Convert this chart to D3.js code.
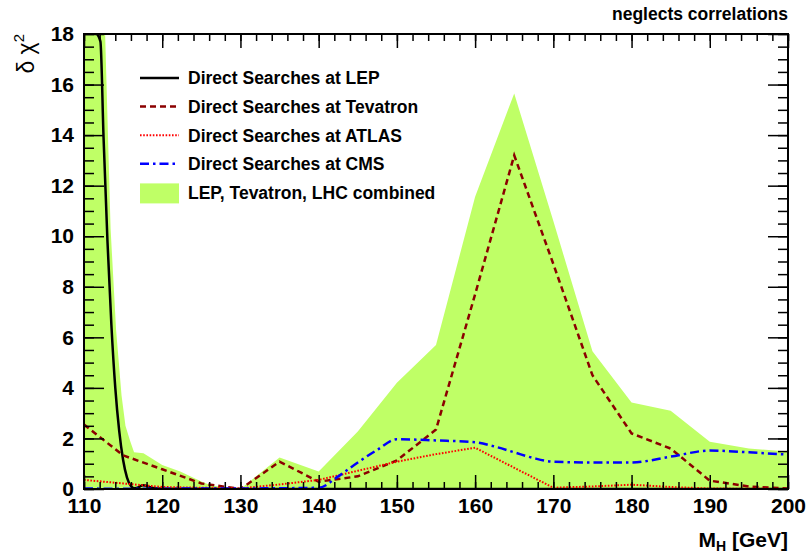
<!DOCTYPE html>
<html>
<head>
<meta charset="utf-8">
<script src="https://cdn.jsdelivr.net/npm/d3@7"></script>
<style>
  html, body { margin: 0; padding: 0; background: #fff; }
  svg { display: block; }
  text { font-family: "Liberation Sans", Arial, Helvetica, sans-serif; }
</style>
</head>
<body>
<svg id="chart" width="808" height="556"></svg>
<script>
// Higgs mass scan: delta chi^2 contributions from direct searches
const lepMass  = [110, 111, 111.6, 112.1, 112.5, 113, 113.5, 114, 114.5, 115, 115.5, 116, 116.5, 117, 117.5, 118, 118.5, 119, 120, 130, 140, 150, 160, 170, 180, 190, 200];
const lepChi2  = [19.2, 18.5, 18.05, 17.7, 13.9, 9.8, 6.5, 4.0, 2.3, 1.15, 0.45, 0.12, 0.03, 0.07, 0.15, 0.13, 0.07, 0.03, 0.01, 0, 0, 0, 0, 0, 0, 0, 0];

const tevMass  = [110, 115, 120, 125, 130, 135, 140, 145, 150, 155, 160, 165, 170, 175, 180, 185, 190, 195, 200];
const tevChi2  = [2.55, 1.33, 0.78, 0.22, 0.0, 1.08, 0.29, 0.5, 1.13, 2.35, 7.7, 13.2, 8.9, 4.5, 2.2, 1.6, 0.33, 0.1, 0.02];

const atlasMass = [110, 115, 120, 125, 130, 135, 140, 145, 150, 155, 160, 165, 170, 175, 180, 185, 190, 195, 200];
const atlasChi2 = [0.36, 0.22, 0.08, 0.05, 0.02, 0.18, 0.36, 0.72, 1.08, 1.38, 1.63, 0.84, 0.05, 0.1, 0.17, 0.08, 0.02, 0.01, 0];

const cmsMass  = [110, 115, 120, 125, 130, 135, 140, 142.5, 145, 147.5, 150, 155, 160, 162.5, 165, 167.5, 170, 175, 180, 185, 190, 195, 200];
const cmsChi2  = [0.02, 0.01, 0.01, 0.02, 0.02, 0.03, 0.05, 0.5, 1.05, 1.55, 1.97, 1.92, 1.85, 1.68, 1.45, 1.22, 1.08, 1.05, 1.05, 1.28, 1.52, 1.45, 1.36];

const combMass = [110, 112, 112.7, 113.4, 114.1, 114.8, 115.3, 115.9, 116.4, 117.6, 120, 122.3, 125, 126.1, 128, 130, 135, 140, 145, 150, 155, 160, 165, 170, 175, 180, 185, 190, 195, 200];
const combChi2 = [21, 20, 18, 10.3, 6.3, 3.7, 2.5, 1.9, 1.45, 1.41, 0.95, 0.69, 0.3, 0.16, 0.06, 0.0, 1.25, 0.69, 2.27, 4.2, 5.7, 11.56, 15.65, 10.6, 5.45, 3.42, 3.1, 1.87, 1.6, 1.48];

const xMajorTicks = [110, 120, 130, 140, 150, 160, 170, 180, 190, 200];
const yMajorTicks = [0, 2, 4, 6, 8, 10, 12, 14, 16, 18];

const legendLabels = [
  "Direct Searches at LEP",
  "Direct Searches at Tevatron",
  "Direct Searches at ATLAS",
  "Direct Searches at CMS",
  "LEP, Tevatron, LHC combined"
];

const bandColor = "#bfff66";

const svg = d3.select("#chart");
const plot = { left: 84, right: 788, top: 34, bottom: 489 };

const x = d3.scaleLinear().domain([110, 200]).range([plot.left, plot.right]);
const y = d3.scaleLinear().domain([0, 18]).range([plot.bottom, plot.top]);

svg.append("defs").append("clipPath").attr("id", "plotClip")
  .append("rect")
  .attr("x", plot.left).attr("y", plot.top)
  .attr("width", plot.right - plot.left).attr("height", plot.bottom - plot.top);

const gPlot = svg.append("g").attr("clip-path", "url(#plotClip)");

// combined band
const combData = combMass.map((m, i) => [m, combChi2[i]]);
gPlot.append("path")
  .datum(combData)
  .attr("fill", bandColor)
  .attr("stroke", "none")
  .attr("d", d3.area().x(d => x(d[0])).y0(y(0)).y1(d => y(d[1])));

// axes
const minorX = d3.range(110, 200.01, 2);
const minorY = d3.range(0, 18.01, 0.5);

function styleAxis(g) {
  g.select(".domain").remove();
  g.selectAll(".tick line").attr("stroke", "#000").attr("stroke-width", 1.5);
  g.selectAll("text")
    .attr("fill", "#000")
    .attr("font-weight", "bold")
    .attr("font-size", 21)
    .attr("font-family", "'Liberation Sans', Arial, sans-serif");
}

svg.append("g").attr("transform", `translate(0,${plot.bottom})`)
  .call(d3.axisBottom(x).tickValues(minorX).tickSize(-7).tickFormat(""))
  .call(styleAxis);
svg.append("g").attr("transform", `translate(0,${plot.bottom})`)
  .call(d3.axisBottom(x).tickValues(xMajorTicks).tickSize(-14).tickPadding(9).tickFormat(d3.format("d")))
  .call(styleAxis);
svg.append("g").attr("transform", `translate(0,${plot.top})`)
  .call(d3.axisTop(x).tickValues(minorX).tickSize(-7).tickFormat(""))
  .call(styleAxis);
svg.append("g").attr("transform", `translate(0,${plot.top})`)
  .call(d3.axisTop(x).tickValues(xMajorTicks).tickSize(-14).tickFormat(""))
  .call(styleAxis);

svg.append("g").attr("transform", `translate(${plot.left},0)`)
  .call(d3.axisLeft(y).tickValues(minorY).tickSize(-10).tickFormat(""))
  .call(styleAxis);
svg.append("g").attr("transform", `translate(${plot.left},0)`)
  .call(d3.axisLeft(y).tickValues(yMajorTicks).tickSize(-20).tickPadding(10).tickFormat(d3.format("d")))
  .call(styleAxis);
svg.append("g").attr("transform", `translate(${plot.right},0)`)
  .call(d3.axisRight(y).tickValues(minorY).tickSize(-10).tickFormat(""))
  .call(styleAxis);
svg.append("g").attr("transform", `translate(${plot.right},0)`)
  .call(d3.axisRight(y).tickValues(yMajorTicks).tickSize(-20).tickFormat(""))
  .call(styleAxis);

// curves
const series = [
  { mass: lepMass,   chi2: lepChi2,   color: "#000000", width: 2.5, dash: null,            curve: d3.curveMonotoneX },
  { mass: tevMass,   chi2: tevChi2,   color: "#8b0000", width: 2.5, dash: "6,4",           curve: d3.curveLinear },
  { mass: atlasMass, chi2: atlasChi2, color: "#ff0000", width: 2,   dash: "1.6,1.6",       curve: d3.curveLinear },
  { mass: cmsMass,   chi2: cmsChi2,   color: "#0000ff", width: 2.5, dash: "9,4,2.5,4",     curve: d3.curveMonotoneX }
];

series.forEach(s => {
  const data = s.mass.map((m, i) => [m, s.chi2[i]]);
  gPlot.append("path")
    .datum(data)
    .attr("fill", "none")
    .attr("stroke", s.color)
    .attr("stroke-width", s.width)
    .attr("stroke-dasharray", s.dash)
    .attr("d", d3.line().curve(s.curve).x(d => x(d[0])).y(d => y(d[1])));
});

// frame
svg.append("rect")
  .attr("x", plot.left).attr("y", plot.top)
  .attr("width", plot.right - plot.left).attr("height", plot.bottom - plot.top)
  .attr("fill", "none").attr("stroke", "#000").attr("stroke-width", 2);

// legend
const legend = svg.append("g");
const rowY = i => 78 + i * 28.6;
legendLabels.forEach((label, i) => {
  const cy = rowY(i);
  if (i < 4) {
    const s = series[i];
    legend.append("line")
      .attr("x1", 140).attr("x2", 179).attr("y1", cy).attr("y2", cy)
      .attr("stroke", s.color).attr("stroke-width", s.width)
      .attr("stroke-dasharray", s.dash);
  } else {
    legend.append("rect")
      .attr("x", 140).attr("y", cy - 9).attr("width", 39).attr("height", 20)
      .attr("fill", bandColor);
  }
  legend.append("text")
    .attr("x", 188).attr("y", cy).attr("dy", "0.36em")
    .attr("font-size", 17.5).attr("font-weight", "bold")
    .text(label);
});

// axis titles
svg.append("text")
  .attr("x", plot.right).attr("y", 547)
  .attr("text-anchor", "end")
  .attr("font-size", 21).attr("font-weight", "bold")
  .call(t => {
    t.append("tspan").text("M");
    t.append("tspan").attr("font-size", 14).attr("dy", 4).text("H");
    t.append("tspan").attr("dy", -4).text(" [GeV]");
  });

svg.append("text")
  .attr("transform", `translate(34,${plot.top}) rotate(-90)`)
  .attr("text-anchor", "end")
  .attr("font-size", 23)
  .call(t => {
    t.append("tspan").text("δ χ");
    t.append("tspan").attr("font-size", 15).attr("dy", -10).text("2");
  });

svg.append("text")
  .attr("x", plot.right).attr("y", 20)
  .attr("text-anchor", "end")
  .attr("font-size", 17.5).attr("font-weight", "bold")
  .text("neglects correlations");
</script>
</body>
</html>
